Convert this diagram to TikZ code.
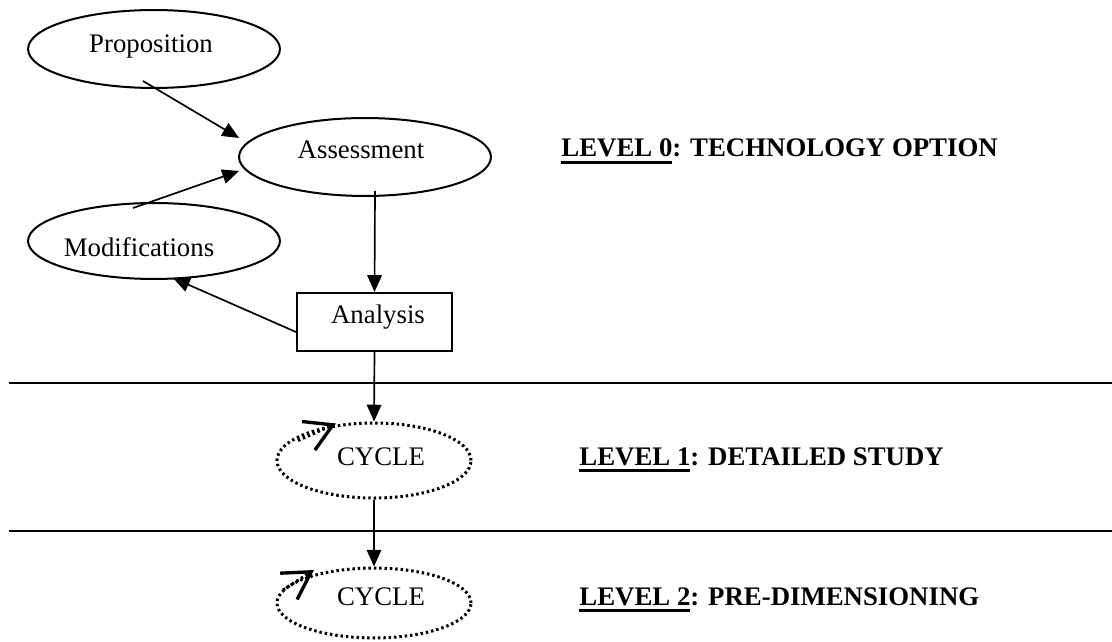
\documentclass[tikz,border=0pt]{standalone}
\usepackage{fontspec}
\setmainfont{Liberation Serif}
\usetikzlibrary{arrows.meta,shapes.geometric,calc}
\newcommand\ulbar[1]{\setbox0\hbox{#1}\rlap{\rule[-3pt]{\wd0}{1.3pt}}\box0}
\begin{document}
\begin{tikzpicture}[x=0.4478pt,y=-0.4478pt,
  every node/.style={font=\fontsize{12pt}{14pt}\selectfont, inner sep=0pt},
  oval/.style={ellipse, draw, line width=0.9pt, inner sep=0pt},
  dotoval/.style={ellipse, draw, line width=1.35pt, dash pattern=on 1.1pt off 1.3pt, inner sep=0pt},
  conn/.style={line width=0.75pt, -{Triangle[length=7.5pt,width=6.5pt]}},
  loopar/.style={line width=1.35pt, dash pattern=on 1.1pt off 1.3pt, -{Straight Barb[length=12pt,width=14pt,line width=1.5pt]}},
  sep/.style={line width=0.9pt},
  lvl/.style={anchor=base west, font=\fontsize{12pt}{14pt}\selectfont\bfseries}]
\useasboundingbox (0,0) rectangle (1112,642);

% shapes
\node[oval, minimum width=112.8pt, minimum height=34.9pt] (prop) at (154,49) {};
\node[oval, minimum width=112.8pt, minimum height=34.9pt] (assess) at (365,157) {};
\node[oval, minimum width=112.8pt, minimum height=34pt] (mod) at (154,241) {};
\node[draw, line width=0.9pt, minimum width=69.4pt, minimum height=26pt] (analysis) at (374.5,322) {};
\node[dotoval, minimum width=86.9pt, minimum height=33.6pt] (cyc1) at (374,460.5) {};
\node[dotoval, minimum width=86.9pt, minimum height=31.3pt] (cyc2) at (374,603) {};

% texts
\node[anchor=base] (tprop) at (151,53) {Proposition};
\node[anchor=base] (tassess) at (361,159) {Assessment};
\node[anchor=base] (tmod) at (139,257) {Modifications};
\node[anchor=base] (tanalysis) at (378,324) {Analysis};
\node[anchor=base] (tcyc1) at (381,465) {CYCLE};
\node[anchor=base] (tcyc2) at (381,605) {CYCLE};

% level labels
\node[lvl] (lvl0) at (561,157) {\ulbar{LEVEL 0}: TECHNOLOGY OPTION};
\node[lvl] (lvl1) at (579,465) {\ulbar{LEVEL 1}: DETAILED STUDY};
\node[lvl] (lvl2) at (579,605) {\ulbar{LEVEL 2}: PRE-DIMENSIONING};

% separators
\draw[sep] (9,383) -- (1112,383);
\draw[sep] (9,531) -- (1112,531);

% connector end points
\coordinate (p1) at ($(prop.south)+(-11,-8)$);
\coordinate (a1) at ($(assess.west)+(1,-19)$);
\coordinate (m1) at ($(mod.north)+(-21,6)$);
\coordinate (a2) at ($(assess.west)+(1,14)$);
\coordinate (an1) at ($(analysis.west)+(0,10)$);
\coordinate (m2) at ($(mod.south)+(19,-2)$);
\coordinate (as1) at ($(assess.south)+(10,-6)$);

% connectors
\draw[conn] (p1) -- (a1);
\draw[conn] (m1) -- (a2);
\draw[conn] (as1) -- (analysis.north);
\draw[conn] (an1) -- (m2);
\draw[conn] (analysis.south) -- (cyc1.north);
\draw[conn] (cyc1.south) -- (cyc2.north);

% cycle arrows
\coordinate (c1s) at ($(cyc1.center)+(-76,-20)$);
\coordinate (c1t) at ($(cyc1.center)+(-38,-37)$);
\coordinate (c2s) at ($(cyc2.center)+(-91,-13)$);
\coordinate (c2t) at ($(cyc2.center)+(-60,-33)$);
\draw[loopar] (c1s) -- (c1t);
\draw[loopar] (c2s) -- (c2t);
\end{tikzpicture}
\end{document}
